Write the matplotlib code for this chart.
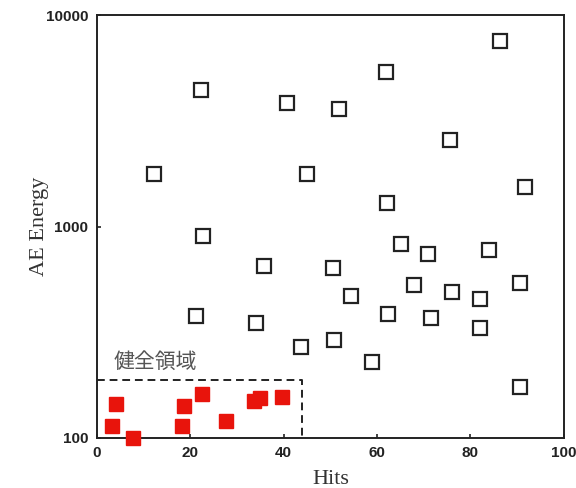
import numpy as np
import matplotlib
matplotlib.use("Agg")
import matplotlib.pyplot as plt

# damaged (open squares)
hits_open = [12.2, 22.3, 22.7, 40.7, 51.8, 45.0, 61.9, 75.6, 86.3, 91.6,
             62.1, 35.8, 50.5, 65.1, 70.8, 83.9, 54.4, 67.9, 76.0, 82.0,
             90.6, 21.2, 34.0, 62.3, 71.5, 82.0, 43.7, 50.7, 58.9, 90.6]
energy_open = [1770, 4420, 900, 3840, 3590, 1770, 5380, 2560, 7530, 1540,
               1290, 650, 637, 827, 741, 774, 469, 529, 490, 454,
               541, 377, 350, 386, 369, 331, 269, 291, 229, 174]

# healthy (filled red squares)
hits_ok = [4.1, 3.2, 7.7, 18.6, 18.2, 22.5, 27.6, 33.6, 34.9, 39.6]
energy_ok = [145, 114, 100, 142, 114, 161, 120, 150, 155, 156]

# healthy region box
box_x = [0, 44, 44]
box_y = [188, 188, 100]

xticks = [0, 20, 40, 60, 80, 100]
yticks = [100, 1000, 10000]
ytick_labels = ["100", "1000", "10000"]

fig = plt.figure(figsize=(5.76, 4.88), dpi=100)
ax = fig.add_axes([0.168, 0.1025, 0.811, 0.8665])

ax.plot(hits_open, energy_open, linestyle="none", marker="s", markersize=9.5,
        markerfacecolor="white", markeredgecolor="#222222", markeredgewidth=1.6)
ax.plot(hits_ok, energy_ok, linestyle="none", marker="s", markersize=10.5,
        markerfacecolor="#e8140c", markeredgecolor="#e8140c", clip_on=False,
        zorder=3)
ax.plot(box_x, box_y, linestyle=(0, (4, 2.5)), color="#222222", linewidth=1.4)

ax.text(3.6, 229, "健全領域", fontsize=15, color="#555555",
        family=["Noto Sans CJK JP", "DejaVu Sans"], va="center", ha="left")

ax.set_yscale("log")
ax.set_xlim(0, 100)
ax.set_ylim(100, 10000)
ax.set_xticks(xticks)
ax.set_xticklabels([str(t) for t in xticks])
ax.set_yticks(yticks)
ax.set_yticklabels(ytick_labels)
ax.yaxis.set_minor_locator(matplotlib.ticker.NullLocator())
ax.tick_params(direction="in", length=3, width=1.2, colors="#222222",
               labelsize=11)
ax.tick_params(axis="x", pad=6)
ax.tick_params(axis="y", pad=6)
for lab in ax.get_xticklabels() + ax.get_yticklabels():
    lab.set_family("Liberation Sans")
    lab.set_fontweight("bold")
    lab.set_color("#222222")

for sp in ax.spines.values():
    sp.set_linewidth(1.4)
    sp.set_color("#222222")

ax.set_xlabel("Hits", family="Liberation Serif", fontsize=16, color="#333333", labelpad=7)
ax.set_ylabel("AE Energy", family="Liberation Serif", fontsize=16, color="#333333", labelpad=-2)

fig.savefig("out.png", dpi=100)
